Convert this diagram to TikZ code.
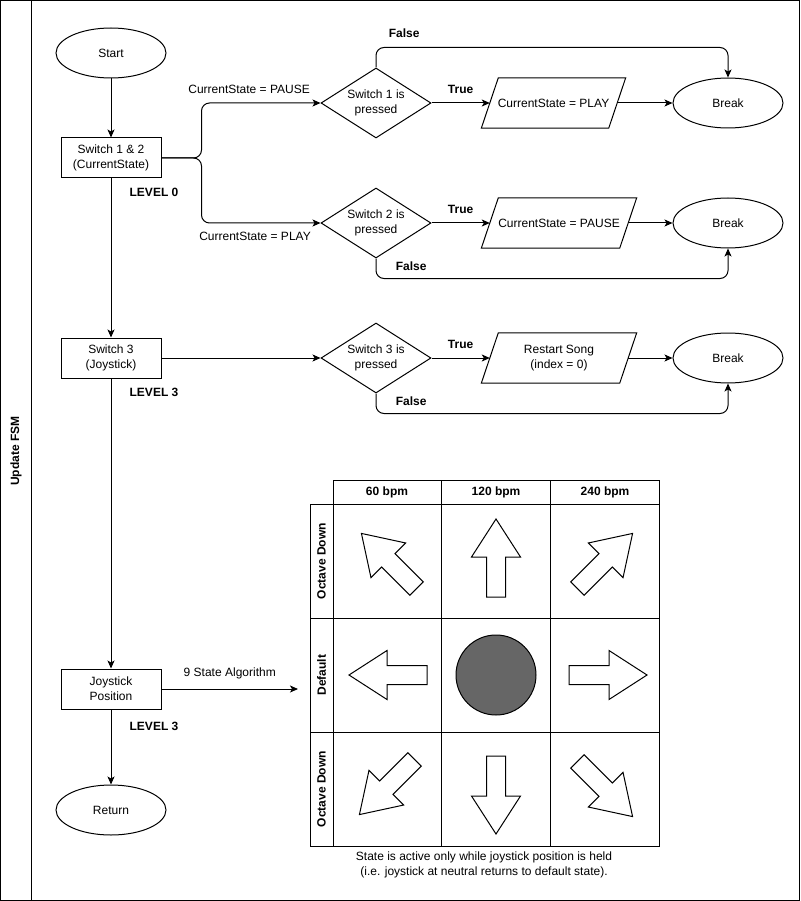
\documentclass[tikz,border=0pt]{standalone}
\usepackage{fontspec}
\setmainfont{Liberation Sans}
\usetikzlibrary{positioning, shapes.geometric, arrows.meta}
\definecolor{knob}{HTML}{666666}

\tikzset{pics/joyarrow/.style={code={% hollow arrow, pointing along +x
  \draw [line width=1pt] (-39,-9.5) -- (1,-9.5) -- (1,-24.5) -- (39,0)
        -- (1,24.5) -- (1,9.5) -- (-39,9.5) -- cycle;}}}

\begin{document}
\begin{tikzpicture}[x=1pt, y=-1pt,
font=\fontsize{12}{15}\selectfont,
   box/.style = {draw, line width=1pt, minimum width=100pt, minimum height=40pt, align=center, inner sep=1pt},
  term/.style = {draw, line width=1pt, ellipse, minimum width=110pt, minimum height=50pt, inner sep=0pt},
  test/.style = {draw, line width=1pt, diamond, aspect=1.57, minimum width=110pt, minimum height=70pt, inner sep=0pt, align=center},
    io/.style = {minimum height=50pt, align=center, inner sep=1pt},% slanted outline drawn below
   tag/.style = {font=\fontsize{12}{15}\selectfont\bfseries},
 arrow/.style = {line width=1pt, -{Stealth[length=8pt,width=7pt,inset=2pt]}, rounded corners=8pt}
                        ]
\useasboundingbox (0,0) rectangle (800,901);
% frame and title strip
\draw [line width=1pt] (0.5,0.5) rectangle (799.5,900.5);
\draw [line width=1pt] (31,0.5) -- (31,900.5);
\node (title) [tag, rotate=90] at (16,451) {Update FSM};
% main column
\node (start) [term] at (111,53)  {Start};
\node (sw12)  [box]  at (111,158) {Switch 1 \& 2\\(CurrentState)};
\node (sw3)   [box]  at (111,358) {Switch 3\\(Joystick)};
\node (joy)   [box]  at (111,689) {Joystick\\Position};
\node (ret)   [term] at (111,810) {Return};
\node (lvl0)  [tag]  at (154,192) {LEVEL 0};
\node (lvl3)  [tag]  at (154,392) {LEVEL 3};
\node (lvl3b) [tag]  at (154,726) {LEVEL 3};
% decisions, actions, breaks
\node (d1) [test] at (376,103) {Switch 1 is\\pressed};
\node (d2) [test] at (376,223) {Switch 2 is\\pressed};
\node (d3) [test] at (376,358) {Switch 3 is\\pressed};
\node (p1) [io, minimum width=127pt] at (553.5,103) {CurrentState = PLAY};
\node (p2) [io, minimum width=138pt] at (559,223)   {CurrentState = PAUSE};
\node (p3) [io, minimum width=138pt] at (559,358)   {Restart Song\\(index = 0)};
\foreach \p in {p1,p2,p3}
  \draw [line width=1pt] ([xshift=-8.5pt]\p.south west) -- ([xshift=8.5pt]\p.north west)
        -- ([xshift=8.5pt]\p.north east) -- ([xshift=-8.5pt]\p.south east) -- cycle;
\node (b1) [term] at (728,103) {Break};
\node (b2) [term] at (728,223) {Break};
\node (b3) [term] at (728,358) {Break};
\coordinate (grid) at (298,689);

\draw [arrow] (start) -- (sw12);
\draw [arrow] (sw12) -- (sw3);
\draw [arrow] (sw3) -- (joy);
\draw [arrow] (joy) -- (ret);
\draw [arrow] (sw12.east) -- ++(40,0) |- node [pos=0.7, above=6pt] {CurrentState = PAUSE} (d1.west);
\draw [arrow] (sw12.east) -- ++(40,0) |- node [pos=0.725, below=5pt] {CurrentState = PLAY} (d2.west);
\draw [arrow] (sw3.east) -- (d3.west);
\draw [arrow] (joy.east) -- node [above=6pt] {9 State Algorithm} (grid);
\foreach \i in {1,2,3}{
  \draw [arrow] (d\i.east) -- node [tag, above=6pt] {True} (p\i.west);
  \draw [arrow] (p\i.east) -- (b\i.west);
}
\draw [arrow] (d1.north) -- ++(0,-20) -| node [tag, pos=0.04, above=6pt] {False} (b1.north);
\draw [arrow] (d2.south) -- ++(0,20) -| node [tag, pos=0.05, above=4pt] {False} (b2.south);
\draw [arrow] (d3.south) -- ++(0,20) -| node [tag, pos=0.05, above=4pt] {False} (b3.south);
% 9 state table
\draw [line width=1pt] (333,480) rectangle (659,504);
\draw [line width=1pt] (310,504) rectangle (659,846);
\draw [line width=1pt] (441,480) -- (441,846) (550,480) -- (550,846) (333,504) -- (333,846);
\draw [line width=1pt] (310,618) -- (659,618) (310,732) -- (659,732);
\foreach \x/\t [count=\i] in {387/60, 496/120, 605/240}
  \node (bpm\i) [tag] at (\x,492) {\t\ bpm};
\node (row1) [tag, rotate=90] at (321.5,561) {Octave Down};
\node (row2) [tag, rotate=90] at (321.5,675) {Default};
\node (row3) [tag, rotate=90] at (321.5,789) {Octave Down};
\pic [rotate=135] at (389,561) {joyarrow};
\pic [rotate=90]  at (496,558) {joyarrow};
\pic [rotate=45]  at (605,561) {joyarrow};
\pic [rotate=180] at (388,675) {joyarrow};
\node (neutral) [circle, draw, line width=1pt, fill=knob, minimum size=80pt] at (496,675) {};
\pic [rotate=0]   at (608,675) {joyarrow};
\pic [rotate=225] at (387,787) {joyarrow};
\pic [rotate=270] at (496,795) {joyarrow};
\pic [rotate=-45] at (605,789) {joyarrow};
\node (note) [align=center] at (484,865) {State is active only while joystick position is held\\(i.e. joystick at neutral returns to default state).};
\end{tikzpicture}
\end{document}
